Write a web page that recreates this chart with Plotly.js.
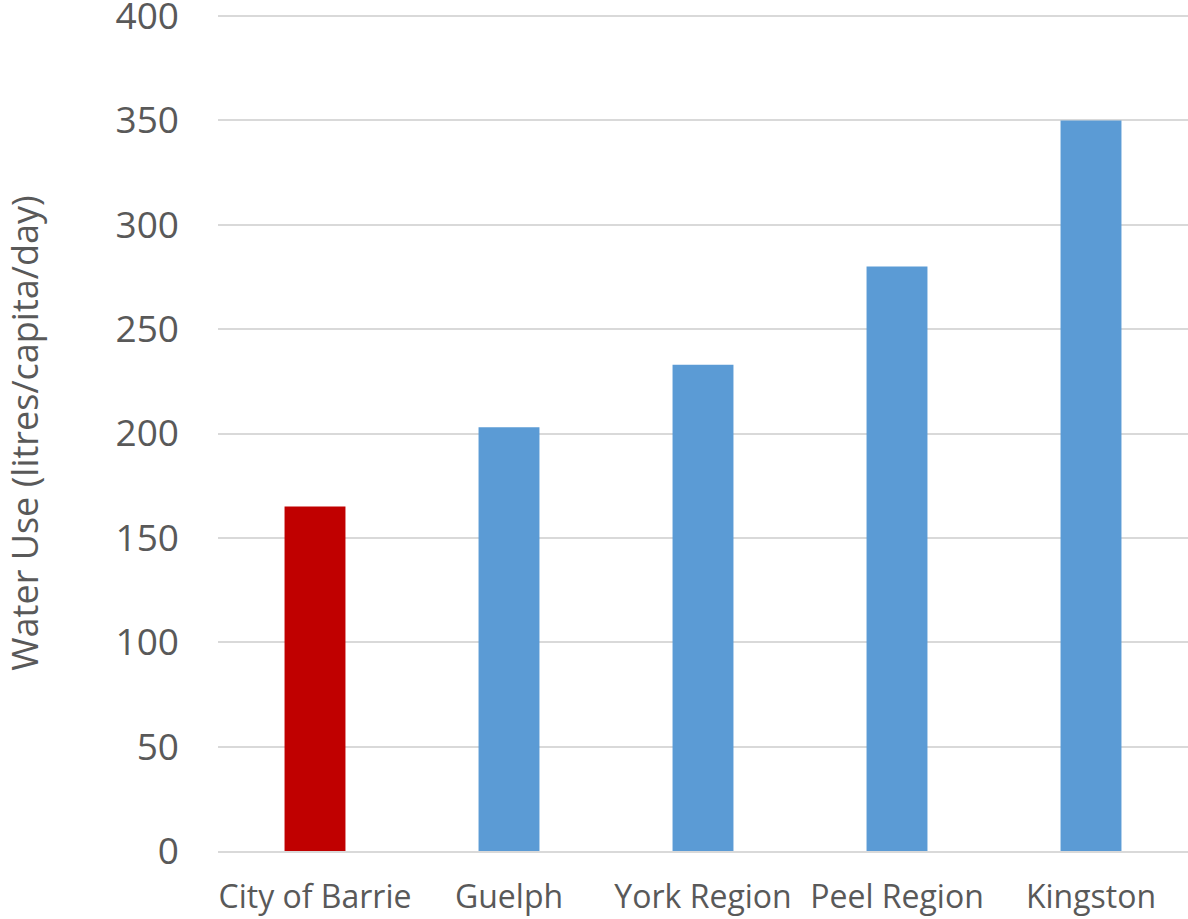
<!DOCTYPE html>
<html>
<head>
<meta charset="utf-8">
<script src="https://cdn.plot.ly/plotly-3.0.1.min.js"></script>
<style>html,body{margin:0;padding:0;background:#fff}#chart{width:1188px;height:919px}</style>
</head>
<body>
<div id="chart"></div>
<script>
const categories = ["City of Barrie", "Guelph", "York Region", "Peel Region", "Kingston"];
const waterUse = [165, 203, 233, 280, 350];
const barColors = ["#C00000", "#5B9BD5", "#5B9BD5", "#5B9BD5", "#5B9BD5"];
const yTicks = [0, 50, 100, 150, 200, 250, 300, 350, 400];

const trace = {
  type: "bar",
  x: categories,
  y: waterUse,
  marker: {color: barColors, line: {width: 0}},
  hoverinfo: "x+y"
};

const layout = {
  width: 1188, height: 919,
  margin: {l: 218, r: 0, t: 15, b: 68},
  paper_bgcolor: "#fff", plot_bgcolor: "#fff",
  bargap: 0.686,
  showlegend: false,
  font: {family: "Open Sans, sans-serif", color: "#595959"},
  xaxis: {
    type: "category",
    showgrid: false,
    showline: true, linecolor: "#d9d9d9", linewidth: 2,
    ticks: "", tickfont: {size: 32, color: "#595959"},
    ticklabelstandoff: 17,
    ticklabeloverflow: "allow",
    automargin: false
  },
  yaxis: {
    range: [0, 400.5],
    tickvals: yTicks,
    ticktext: yTicks.map(String),
    showgrid: true, gridcolor: "#d9d9d9", gridwidth: 2,
    zeroline: false, showline: false,
    ticks: "", tickfont: {size: 37, color: "#595959"},
    ticklabelstandoff: 38,
    ticklabeloverflow: "allow",
    automargin: false,
    title: {text: "Water Use (litres/capita/day)", font: {size: 36, color: "#595959"}, standoff: 66}
  }
};

Plotly.newPlot("chart", [trace], layout, {displayModeBar: false, staticPlot: true});
</script>
</body>
</html>
